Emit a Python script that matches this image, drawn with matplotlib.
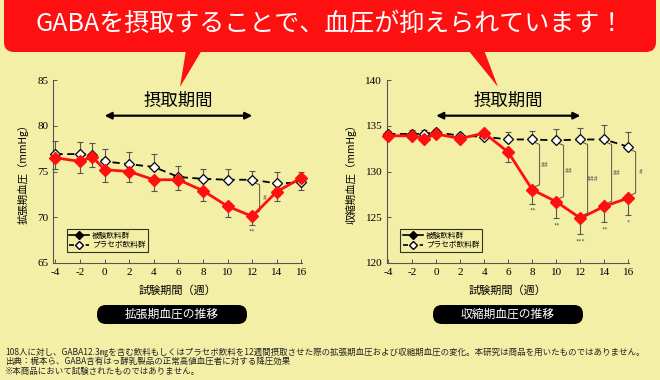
import matplotlib
matplotlib.use("Agg")
import matplotlib.pyplot as plt
from matplotlib.patches import FancyBboxPatch, Polygon
from matplotlib.lines import Line2D

plt.rcParams['font.family'] = ['Noto Sans CJK JP', 'DejaVu Sans']
plt.rcParams['axes.unicode_minus'] = False

# data
weeks = [-4, -2, -1, 0, 2, 4, 6, 8, 10, 12, 14, 16]
xticks = [-4, -2, 0, 2, 4, 6, 8, 10, 12, 14, 16]

dia_test = [76.5, 76.1, 76.6, 75.2, 75.0, 74.1, 74.1, 72.9, 71.2, 70.1, 72.8, 74.3]
dia_test_err = [1.2, 1.3, 1.1, 1.3, 1.2, 1.2, 1.1, 1.1, 1.2, 0.9, 1.0, 1.3]
dia_plac = [76.9, 76.9, 76.8, 76.1, 75.8, 75.5, 74.4, 74.2, 74.1, 74.1, 73.7, 73.8]
dia_plac_err = [1.4, 1.3, 1.3, 1.4, 1.3, 1.4, 1.2, 1.1, 1.2, 1.0, 1.2, 1.1]
dia_stars = {12: '**'}
dia_hash = {12: '#'}

sys_test = [133.9, 133.9, 133.6, 134.1, 133.6, 134.2, 132.1, 128.0, 126.7, 124.9, 126.2, 127.1]
sys_test_err = [0.3, 0.3, 0.3, 0.3, 0.3, 0.3, 1.1, 1.5, 1.8, 1.7, 1.7, 1.9]
sys_plac = [134.1, 134.1, 134.1, 134.3, 133.9, 133.8, 133.5, 133.5, 133.4, 133.5, 133.5, 132.7]
sys_plac_err = [0.3, 0.4, 0.4, 0.3, 0.3, 0.3, 0.8, 0.9, 1.2, 1.2, 1.6, 1.6]
sys_stars = {8: '**', 10: '**', 12: '***', 14: '**', 16: '*'}
sys_hash = {8: '##', 10: '##', 12: '###', 14: '##', 16: '#'}

BG = '#f4efa6'
RED = '#ff1010'
SERIF = 'Liberation Serif'

fig = plt.figure(figsize=(6.6, 3.8), dpi=100)
fig.patch.set_facecolor(BG)

# background layer in pixel coords
bg = fig.add_axes([0, 0, 1, 1], zorder=0)
bg.set_xlim(0, 660)
bg.set_ylim(380, 0)
bg.axis('off')
bg.add_patch(FancyBboxPatch((4, -20), 652, 72, boxstyle='round,pad=0,rounding_size=10',
                            fc=RED, ec='none'))
bg.add_patch(Polygon([(186, 50), (202, 50), (180, 87)], closed=True, fc=RED, ec='none'))
bg.add_patch(Polygon([(468, 50), (484, 50), (498, 87)], closed=True, fc=RED, ec='none'))
bg.text(330, 24, 'GABAを摂取することで、血圧が抑えられています！', color='white',
        fontsize=18, ha='center', va='center')

for cx, label in [(172, '拡張期血圧の推移'), (508, '収縮期血圧の推移')]:
    bg.add_patch(FancyBboxPatch((cx - 75, 305), 150, 19,
                                boxstyle='round,pad=0,rounding_size=9', fc='black', ec='none'))
    bg.text(cx, 314.5, label, color='white', fontsize=8.5, ha='center', va='center')

notes = ['108人に対し、GABA12.3㎎を含む飲料もしくはプラセボ飲料を12週間摂取させた際の拡張期血圧および収縮期血圧の変化。本研究は商品を用いたものではありません。',
         '出典：梶本ら、GABA含有はっ酵乳製品の正常高値血圧者に対する降圧効果',
         '※本商品において試験されたものではありません。']
for i, line in enumerate(notes):
    bg.text(5, 352 + i * 9.8, line, fontsize=6.1, va='center', ha='left', color='#222222')


def draw_panel(rect, xlim, ylim, yticks, test, test_err, plac, plac_err,
               stars, hashes, ylabel, arrow_y, ann_y):
    ax = fig.add_axes(rect, zorder=2)
    ax.set_facecolor('none')
    ax.set_xlim(*xlim)
    ax.set_ylim(*ylim)
    for s in ['top', 'right']:
        ax.spines[s].set_visible(False)
    for s in ['left', 'bottom']:
        ax.spines[s].set_color('#555555')
        ax.spines[s].set_linewidth(0.8)
    ax.set_xticks(xticks)
    ax.set_yticks(yticks)
    ax.tick_params(direction='in', length=3, width=0.7, color='#555555', labelsize=8)
    for lab in ax.get_xticklabels() + ax.get_yticklabels():
        lab.set_fontfamily(SERIF)
    ax.set_ylabel(ylabel, fontsize=7.5, labelpad=6)
    ax.set_xlabel('試験期間（週）', fontsize=8, labelpad=6)

    zeros = [0] * len(weeks)
    eb1 = ax.errorbar(weeks, plac, yerr=[zeros, plac_err], fmt='none', ecolor='#555555',
                      elinewidth=0.8, capsize=2.5, capthick=0.8, zorder=2)
    eb2 = ax.errorbar(weeks, test, yerr=[test_err, zeros], fmt='none', ecolor='#555555',
                      elinewidth=0.8, capsize=2.5, capthick=0.8, zorder=2)
    for eb in (eb1, eb2):
        for art in eb.lines[1] + eb.lines[2]:
            art.set_clip_on(False)
    ax.plot(weeks, plac, color='black', ls=(0, (4, 2.5)), lw=1.3, marker='D', ms=5,
            mfc='white', mec='black', mew=0.9, zorder=3, clip_on=False)
    ax.plot(weeks, test, color=RED, lw=2.0, marker='D', ms=6.2, mfc=RED, mec=RED, zorder=4,
            clip_on=False)

    for wk, s in stars.items():
        i = weeks.index(wk)
        ax.text(wk, test[i] - test_err[i] - 0.5, s, fontsize=5, ha='center', va='top',
                color='#555555')
    for wk, s in hashes.items():
        i = weeks.index(wk)
        bx = wk + 0.6
        top = plac[i] - 0.35
        bot = test[i] + 0.35
        ax.plot([bx - 0.35, bx, bx, bx - 0.35], [top, top - 0.2, bot + 0.2, bot],
                color='#666655', lw=0.8, zorder=2, clip_on=False)
        ax.text(bx + 0.45, (top + bot) / 2, s, fontsize=5, ha='center', va='center',
                color='#555555', style='italic')

    ax.annotate('', xy=(0, arrow_y), xytext=(12, arrow_y),
                arrowprops=dict(arrowstyle='<|-|>', color='black', lw=1.6, mutation_scale=10,
                                shrinkA=0, shrinkB=0))
    ax.text(6, ann_y, '摂取期間', fontsize=12.5, ha='center', va='center')

    handles = [Line2D([], [], color='black', lw=1.2, marker='D', ms=4, mfc='black'),
               Line2D([], [], color='black', lw=1.2, ls=(0, (3, 2)), marker='D', ms=4,
                      mfc='white', mec='black')]
    leg = ax.legend(handles, ['被験飲料群', 'プラセボ飲料群'], loc='lower left',
                    bbox_to_anchor=(0.055, 0.06), fontsize=5.5, frameon=True, fancybox=False,
                    edgecolor='black', facecolor='none', handlelength=2.6, borderpad=0.35,
                    labelspacing=0.2, handletextpad=0.4, borderaxespad=0)
    leg.get_frame().set_linewidth(0.8)
    return ax


draw_panel([53 / 660, 1 - 263 / 380, 249 / 660, 183 / 380], (-4.2, 16.05), (65, 85),
           [65, 70, 75, 80, 85], dia_test, dia_test_err, dia_plac, dia_plac_err,
           dia_stars, dia_hash, '拡張期血圧（mmHg）', 81.1, 82.7)
draw_panel([387 / 660, 1 - 263 / 380, 242 / 660, 183 / 380], (-4.1, 16.05), (120, 140),
           [120, 125, 130, 135, 140], sys_test, sys_test_err, sys_plac, sys_plac_err,
           sys_stars, sys_hash, '収縮期血圧（mmHg）', 136.1, 137.7)

fig.savefig('out.png', dpi=100, facecolor=BG)
